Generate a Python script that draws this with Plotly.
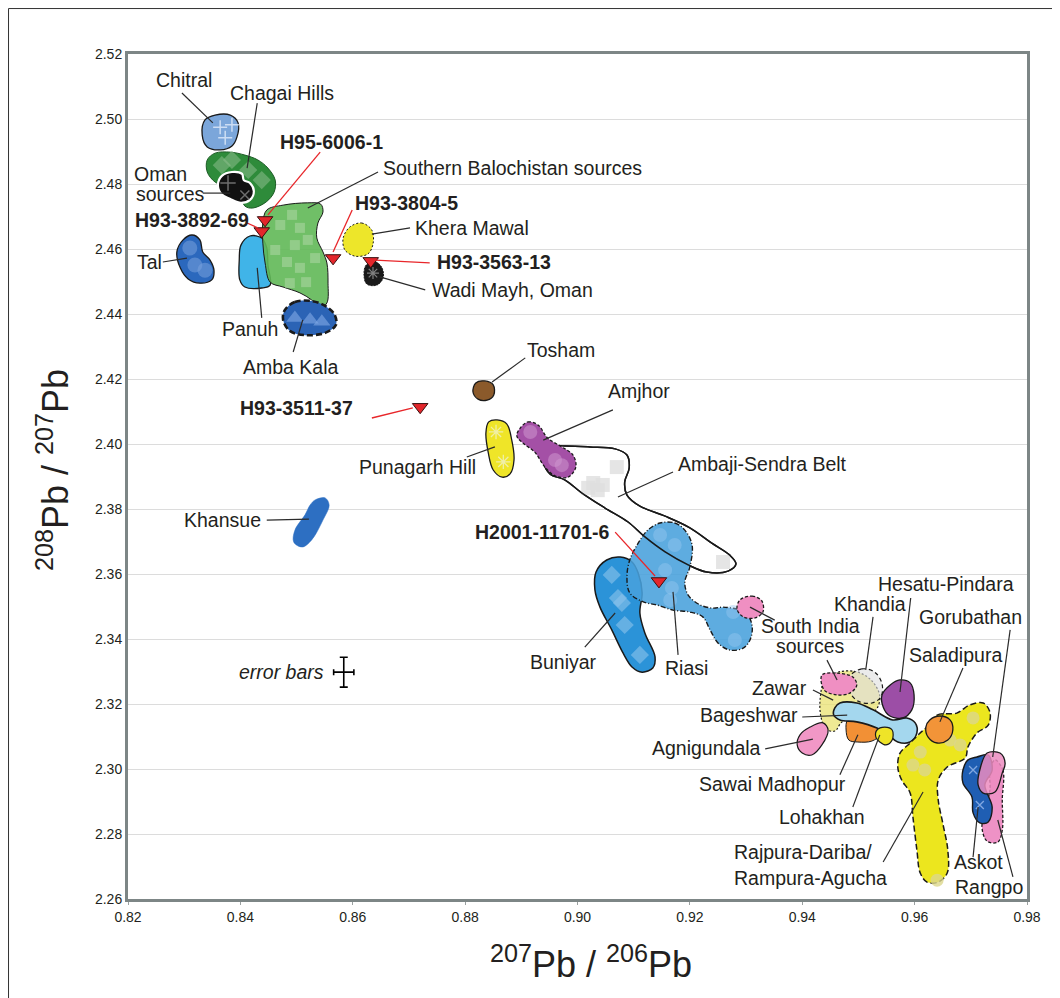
import plotly.graph_objects as go

# ---------------- field outlines: x = 207Pb/206Pb, y = 208Pb/207Pb ----------------
chitral_x = [0.8337, 0.8355, 0.8382, 0.8396, 0.8394, 0.8385, 0.8364, 0.8341, 0.8332]
chitral_y = [2.4997, 2.5012, 2.5012, 2.4988, 2.4945, 2.4917, 2.4905, 2.4914, 2.4951]

chagai_x = [0.8341, 0.8355, 0.8382, 0.8408, 0.8431, 0.8449, 0.8462, 0.8460, 0.8446, 0.8422, 0.8408, 0.8399, 0.8378, 0.8355, 0.8341]
chagai_y = [2.4874, 2.4895, 2.4898, 2.4889, 2.4874, 2.4849, 2.4812, 2.4775, 2.4745, 2.4726, 2.4732, 2.4766, 2.4788, 2.4806, 2.4837]

oman_x = [0.8360, 0.8367, 0.8385, 0.8403, 0.8406, 0.8417, 0.8424, 0.8417, 0.8401, 0.8382, 0.8366]
oman_y = [2.4797, 2.4825, 2.4837, 2.4831, 2.4812, 2.4803, 2.4778, 2.4751, 2.4742, 2.4754, 2.4769]

sbal_x = [0.8447, 0.8476, 0.8519, 0.8543, 0.8547, 0.8538, 0.8536, 0.8547, 0.8554, 0.8556, 0.8554, 0.8542, 0.8527, 0.8506, 0.8476, 0.8453, 0.8444, 0.8440, 0.8440]
sbal_y = [2.4720, 2.4735, 2.4742, 2.4738, 2.4714, 2.4680, 2.4634, 2.4591, 2.4557, 2.4495, 2.4434, 2.4418, 2.4443, 2.4465, 2.4483, 2.4498, 2.4557, 2.4618, 2.4680]

tal_x = [0.8298, 0.8314, 0.8328, 0.8333, 0.8346, 0.8353, 0.8349, 0.8328, 0.8307, 0.8293, 0.8287]
tal_y = [2.4628, 2.4643, 2.4628, 2.4591, 2.4566, 2.4535, 2.4505, 2.4495, 2.4508, 2.4542, 2.4591]

panuh_x = [0.8417, 0.8438, 0.8447, 0.8449, 0.8453, 0.8438, 0.8408, 0.8399, 0.8398, 0.8401]
panuh_y = [2.4640, 2.4634, 2.4603, 2.4551, 2.4489, 2.4480, 2.4483, 2.4505, 2.4566, 2.4612]

amba_x = [0.8479, 0.8497, 0.8527, 0.8551, 0.8568, 0.8570, 0.8551, 0.8515, 0.8488, 0.8476]
amba_y = [2.4412, 2.4437, 2.4440, 2.4425, 2.4397, 2.4366, 2.4342, 2.4335, 2.4348, 2.4382]

khera_x = [0.8595, 0.8616, 0.8634, 0.8636, 0.8627, 0.8604, 0.8586, 0.8583]
khera_y = [2.4668, 2.4680, 2.4658, 2.4615, 2.4585, 2.4578, 2.4597, 2.4634]

wadi_x = [0.8624, 0.8641, 0.8652, 0.8654, 0.8643, 0.8625, 0.8620]
wadi_y = [2.4551, 2.4560, 2.4542, 2.4511, 2.4489, 2.4492, 2.4520]

tosham_x = [0.8819, 0.8835, 0.8850, 0.8851, 0.8839, 0.8823, 0.8814]
tosham_y = [2.4188, 2.4194, 2.4182, 2.4151, 2.4135, 2.4138, 2.4160]

punagarh_x = [0.8857, 0.8874, 0.8883, 0.8887, 0.8880, 0.8866, 0.8850, 0.8841, 0.8837, 0.8842]
punagarh_y = [2.4074, 2.4062, 2.4012, 2.3951, 2.3908, 2.3898, 2.3920, 2.3975, 2.4034, 2.4068]

amjhor_x = [0.8898, 0.8912, 0.8930, 0.8947, 0.8972, 0.8992, 0.8997, 0.8983, 0.8960, 0.8942, 0.8924, 0.8905, 0.8892]
amjhor_y = [2.4049, 2.4068, 2.4058, 2.4018, 2.3991, 2.3966, 2.3929, 2.3898, 2.3902, 2.3929, 2.3975, 2.4000, 2.4025]

ambaji_x = [0.8946, 0.8978, 0.9022, 0.9067, 0.9088, 0.9092, 0.9084, 0.9088, 0.9111, 0.9156, 0.9200, 0.9239, 0.9271, 0.9282, 0.9268, 0.9230, 0.9197, 0.9156, 0.9120, 0.9090, 0.9049, 0.9008, 0.8978, 0.8951, 0.8940]
ambaji_y = [2.3991, 2.3994, 2.3991, 2.3985, 2.3966, 2.3926, 2.3883, 2.3843, 2.3809, 2.3778, 2.3742, 2.3695, 2.3658, 2.3631, 2.3609, 2.3606, 2.3628, 2.3668, 2.3714, 2.3760, 2.3803, 2.3849, 2.3889, 2.3908, 2.3945]

khansue_x = [0.8533, 0.8551, 0.8558, 0.8547, 0.8527, 0.8510, 0.8495, 0.8497, 0.8515, 0.8524]
khansue_y = [2.3828, 2.3834, 2.3812, 2.3766, 2.3705, 2.3683, 2.3698, 2.3735, 2.3782, 2.3812]

buniyar_x = [0.9052, 0.9076, 0.9097, 0.9108, 0.9115, 0.9111, 0.9120, 0.9138, 0.9134, 0.9115, 0.9097, 0.9081, 0.9061, 0.9040, 0.9031, 0.9033]
buniyar_y = [2.3643, 2.3652, 2.3637, 2.3603, 2.3542, 2.3480, 2.3418, 2.3345, 2.3311, 2.3298, 2.3314, 2.3357, 2.3428, 2.3498, 2.3551, 2.3606]

riasi_x = [0.9147, 0.9173, 0.9191, 0.9204, 0.9200, 0.9191, 0.9197, 0.9218, 0.9241, 0.9259, 0.9289, 0.9303, 0.9311, 0.9307, 0.9295, 0.9271, 0.9250, 0.9236, 0.9223, 0.9200, 0.9170, 0.9141, 0.9117, 0.9093, 0.9088, 0.9093, 0.9108, 0.9125]
riasi_y = [2.3757, 2.3757, 2.3735, 2.3689, 2.3622, 2.3575, 2.3535, 2.3505, 2.3495, 2.3498, 2.3489, 2.3474, 2.3437, 2.3397, 2.3372, 2.3366, 2.3388, 2.3428, 2.3468, 2.3483, 2.3489, 2.3505, 2.3514, 2.3542, 2.3591, 2.3643, 2.3695, 2.3735]

sindia_a_x = [0.9289, 0.9311, 0.9328, 0.9330, 0.9316, 0.9295, 0.9284]
sindia_a_y = [2.3520, 2.3532, 2.3517, 2.3483, 2.3465, 2.3468, 2.3492]

sindia_b_x = [0.9435, 0.9462, 0.9490, 0.9497, 0.9485, 0.9462, 0.9439]
sindia_b_y = [2.3289, 2.3295, 2.3283, 2.3258, 2.3234, 2.3228, 2.3243]

zawar_x = [0.9439, 0.9464, 0.9499, 0.9524, 0.9538, 0.9531, 0.9503, 0.9471, 0.9458, 0.9442, 0.9433, 0.9432]
zawar_y = [2.3268, 2.3298, 2.3298, 2.3271, 2.3225, 2.3182, 2.3163, 2.3145, 2.3117, 2.3123, 2.3163, 2.3218]

khandia_x = [0.9485, 0.9506, 0.9529, 0.9542, 0.9540, 0.9524, 0.9499, 0.9483]
khandia_y = [2.3286, 2.3308, 2.3298, 2.3262, 2.3222, 2.3203, 2.3209, 2.3243]

hesatu_x = [0.9556, 0.9574, 0.9592, 0.9599, 0.9595, 0.9579, 0.9556, 0.9544, 0.9542]
hesatu_y = [2.3258, 2.3274, 2.3265, 2.3228, 2.3182, 2.3157, 2.3163, 2.3191, 2.3228]

bageshwar_x = [0.9458, 0.9467, 0.9497, 0.9526, 0.9561, 0.9586, 0.9601, 0.9604, 0.9592, 0.9570, 0.9553, 0.9533, 0.9497, 0.9467, 0.9456]
bageshwar_y = [2.3188, 2.3203, 2.3203, 2.3182, 2.3151, 2.3157, 2.3142, 2.3111, 2.3083, 2.3083, 2.3105, 2.3126, 2.3145, 2.3151, 2.3166]

sawai_x = [0.9481, 0.9506, 0.9535, 0.9538, 0.9524, 0.9499, 0.9483, 0.9478]
sawai_y = [2.3151, 2.3157, 2.3135, 2.3105, 2.3086, 2.3083, 2.3089, 2.3120]

lohakhan_x = [0.9533, 0.9547, 0.9560, 0.9560, 0.9549, 0.9538, 0.9531]
lohakhan_y = [2.3120, 2.3129, 2.3120, 2.3089, 2.3074, 2.3083, 2.3098]

agni_x = [0.9396, 0.9414, 0.9437, 0.9446, 0.9435, 0.9417, 0.9400, 0.9391]
agni_y = [2.3105, 2.3129, 2.3142, 2.3120, 2.3074, 2.3043, 2.3049, 2.3074]

saladipura_x = [0.9627, 0.9645, 0.9663, 0.9668, 0.9659, 0.9640, 0.9624, 0.9620]
saladipura_y = [2.3151, 2.3163, 2.3151, 2.3120, 2.3089, 2.3080, 2.3098, 2.3129]

rajpura_x = [0.9622, 0.9640, 0.9675, 0.9698, 0.9722, 0.9734, 0.9731, 0.9711, 0.9695, 0.9690, 0.9658, 0.9642, 0.9642, 0.9650, 0.9659, 0.9658, 0.9642, 0.9622, 0.9610, 0.9604, 0.9597, 0.9592, 0.9577, 0.9570, 0.9574, 0.9592, 0.9610]
rajpura_y = [2.3129, 2.3166, 2.3172, 2.3197, 2.3203, 2.3175, 2.3135, 2.3111, 2.3068, 2.3034, 2.3006, 2.2966, 2.2905, 2.2834, 2.2751, 2.2680, 2.2652, 2.2652, 2.2680, 2.2751, 2.2852, 2.2926, 2.2966, 2.3006, 2.3049, 2.3080, 2.3111]

askot_x = [0.9711, 0.9731, 0.9738, 0.9725, 0.9738, 0.9731, 0.9716, 0.9704, 0.9702, 0.9686, 0.9686, 0.9695]
askot_y = [2.3037, 2.3043, 2.2997, 2.2951, 2.2883, 2.2837, 2.2834, 2.2865, 2.2914, 2.2957, 2.2997, 2.3028]

goru_x = [0.9729, 0.9752, 0.9761, 0.9756, 0.9743, 0.9722, 0.9713, 0.9716]
goru_y = [2.3049, 2.3049, 2.3018, 2.2988, 2.2929, 2.2926, 2.2951, 2.2997]

rangpo_x = [0.9743, 0.9757, 0.9756, 0.9756, 0.9748, 0.9729, 0.9720, 0.9725, 0.9734, 0.9734]
rangpo_y = [2.3028, 2.2997, 2.2905, 2.2812, 2.2775, 2.2778, 2.2818, 2.2874, 2.2935, 2.2997]

# ---------------- individual analyses inside fields ----------------
chitral_pts_x = [0.8364, 0.8385, 0.8373]
chitral_pts_y = [2.4975, 2.4982, 2.4942]
chagai_pts_x = [0.8367, 0.8385, 0.8414, 0.8438]
chagai_pts_y = [2.4858, 2.4874, 2.4843, 2.4812]
sbal_pts_x = [0.8471, 0.8492, 0.8506, 0.8497, 0.8520, 0.8483, 0.8506, 0.8488, 0.8462, 0.8533, 0.8517]
sbal_pts_y = [2.4674, 2.4705, 2.4665, 2.4612, 2.4628, 2.4560, 2.4542, 2.4495, 2.4597, 2.4572, 2.4498]
tal_pts_x = [0.8310, 0.8319, 0.8337]
tal_pts_y = [2.4603, 2.4551, 2.4535]
amba_pts_x = [0.8497, 0.8524, 0.8545]
amba_pts_y = [2.4388, 2.4382, 2.4376]
khansue_pts_x = [0.8545, 0.8511]
khansue_pts_y = [2.3812, 2.3726]
punagarh_pts_x = [0.8855, 0.8868]
punagarh_pts_y = [2.4037, 2.3945]
amjhor_pts_x = [0.8916, 0.8960, 0.8972]
amjhor_pts_y = [2.4037, 2.3951, 2.3935]
ambaji_pts_x = [0.9070, 0.9028, 0.9019, 0.9036, 0.9045, 0.9259]
ambaji_pts_y = [2.3929, 2.3880, 2.3865, 2.3858, 2.3874, 2.3637]
buniyar_pts_x = [0.9061, 0.9072, 0.9079, 0.9084, 0.9111]
buniyar_pts_y = [2.3597, 2.3526, 2.3511, 2.3443, 2.3351]
riasi_pts_x = [0.9147, 0.9173, 0.9156, 0.9168, 0.9165, 0.9277, 0.9280]
riasi_pts_y = [2.3720, 2.3689, 2.3612, 2.3557, 2.3520, 2.3483, 2.3397]
rajpura_pts_x = [0.9704, 0.9663, 0.9681, 0.9610, 0.9597, 0.9618, 0.9640]
rajpura_pts_y = [2.3157, 2.3089, 2.3074, 2.3052, 2.3012, 2.2997, 2.2658]
askot_pts_x = [0.9704, 0.9716]
askot_pts_y = [2.2997, 2.2889]
oman_pts_x = [0.8378, 0.8408]
oman_pts_y = [2.4803, 2.4766]
wadi_pts_x = [0.8636]
wadi_pts_y = [2.4526]

# ---------------- artefact samples (red triangles) ----------------
sample_names = ["H95-6006-1", "H93-3892-69", "H93-3804-5", "H93-3563-13", "H93-3511-37", "H2001-11701-6"]
sample_x = [0.8444, 0.8438, 0.8565, 0.8632, 0.8720, 0.9145]
sample_y = [2.4689, 2.4655, 2.4572, 2.4563, 2.4114, 2.3578]

# error bar (typical 2 sigma)
err_x, err_y = [0.8584], [2.3298]
err_dx, err_dy = 0.0018, 0.0046

x_ticks = [0.82, 0.84, 0.86, 0.88, 0.90, 0.92, 0.94, 0.96, 0.98]
y_ticks = [2.26, 2.28, 2.30, 2.32, 2.34, 2.36, 2.38, 2.40, 2.42, 2.44, 2.46, 2.48, 2.50, 2.52]

FONT = "Liberation Sans, Arial, sans-serif"
fig = go.Figure()


def closed(v):
    return list(v) + [v[0]]


def blob(xs, ys, fill, line_color="#1a1a1a", width=1.3, dash="solid", opacity=1.0, name=""):
    fig.add_trace(go.Scatter(
        x=closed(xs), y=closed(ys), mode="lines", fill="toself", fillcolor=fill,
        line=dict(color=line_color, width=width, dash=dash, shape="spline", smoothing=1.0),
        opacity=opacity, hoverinfo="skip", showlegend=False, name=name))


def pts(xs, ys, symbol, color, size=11, line=None):
    mk = dict(symbol=symbol, size=size, color=color)
    if line:
        mk["line"] = line
    fig.add_trace(go.Scatter(x=xs, y=ys, mode="markers", marker=mk,
                             hoverinfo="skip", showlegend=False))


# Ambaji-Sendra belt (white field with outline)
blob(ambaji_x, ambaji_y, "white", width=1.5, name="Ambaji")
pts(ambaji_pts_x, ambaji_pts_y, "square", "rgba(222,222,222,0.8)", size=14)

# north-west fields
blob(chitral_x, chitral_y, "#7ba6da", name="Chitral")
pts(chitral_pts_x, chitral_pts_y, "cross-thin", "rgba(0,0,0,0)", size=10,
    line=dict(color="rgba(225,235,250,0.8)", width=1.5))
blob(chagai_x, chagai_y, "#2e8b3a", line_color="#1d5c26", width=1, name="Chagai")
pts(chagai_pts_x, chagai_pts_y, "diamond", "rgba(140,190,140,0.55)", size=14)
blob(oman_x, oman_y, "#111111", line_color="white", width=2.2, name="Oman")
pts(oman_pts_x[:1], oman_pts_y[:1], "cross-thin", "rgba(0,0,0,0)", size=11,
    line=dict(color="rgba(120,120,120,0.9)", width=1.5))
pts(oman_pts_x[1:], oman_pts_y[1:], "x-thin", "rgba(0,0,0,0)", size=9,
    line=dict(color="rgba(120,120,120,0.9)", width=1.5))
blob(panuh_x, panuh_y, "#40b4e8", name="Panuh")
blob(sbal_x, sbal_y, "rgba(96,184,86,0.9)", width=1, name="SBal")
pts(sbal_pts_x, sbal_pts_y, "square", "rgba(175,215,165,0.55)", size=10)
blob(tal_x, tal_y, "#2b68bd", name="Tal")
pts(tal_pts_x, tal_pts_y, "circle", "rgba(120,160,220,0.55)", size=15)
blob(amba_x, amba_y, "#2b63b5", width=2.6, dash="6px,3px", name="Amba")
pts(amba_pts_x, amba_pts_y, "triangle-up", "rgba(130,170,230,0.6)", size=15)
blob(khera_x, khera_y, "#ede62a", width=1, dash="2px,2px", name="Khera")
blob(wadi_x, wadi_y, "#1a1a1a", width=1, dash="2px,1px", name="Wadi")
pts(wadi_pts_x, wadi_pts_y, "asterisk", "rgba(0,0,0,0)", size=10,
    line=dict(color="rgba(140,140,140,0.9)", width=1.2))
blob(tosham_x, tosham_y, "#8b5a2b", name="Tosham")
blob(punagarh_x, punagarh_y, "#efe528", name="Punagarh")
pts(punagarh_pts_x, punagarh_pts_y, "asterisk", "rgba(0,0,0,0)", size=12,
    line=dict(color="rgba(240,240,180,0.9)", width=1.3))
blob(khansue_x, khansue_y, "#2d6fc2", line_color="#2d6fc2", width=0.5, name="Khansue")
pts(khansue_pts_x, khansue_pts_y, "circle-x-open", "rgba(0,0,0,0)", size=10,
    line=dict(color="rgba(150,185,235,0.9)", width=1.2))

# Buniyar / Riasi
blob(buniyar_x, buniyar_y, "#2b93d8", width=1.5, name="Buniyar")
pts(buniyar_pts_x, buniyar_pts_y, "diamond", "rgba(140,195,235,0.6)", size=14)
blob(riasi_x, riasi_y, "rgba(72,160,220,0.88)", width=1.4, dash="5px,2px,1px,2px", name="Riasi")
pts(riasi_pts_x, riasi_pts_y, "circle", "rgba(150,200,240,0.45)", size=14)
# Ambaji outline redrawn over Riasi
fig.add_trace(go.Scatter(x=closed(ambaji_x), y=closed(ambaji_y), mode="lines",
                         line=dict(color="#1a1a1a", width=1.5, shape="spline", smoothing=1.0),
                         hoverinfo="skip", showlegend=False))
blob(amjhor_x, amjhor_y, "#a450a6", width=1.3, dash="3px,2px", name="Amjhor")
pts(amjhor_pts_x, amjhor_pts_y, "circle", "rgba(205,150,205,0.55)", size=14)
blob(sindia_a_x, sindia_a_y, "#ef8fc2", width=1.3, dash="3px,2px", name="SIndiaA")

# south-east cluster
blob(zawar_x, zawar_y, "rgba(234,226,112,0.75)", width=1.2, dash="2px,2px", name="Zawar")
blob(khandia_x, khandia_y, "rgba(222,222,222,0.6)", width=1.2, dash="4px,3px", name="Khandia")
blob(sindia_b_x, sindia_b_y, "#ef8fc2", width=1.3, dash="3px,2px", name="SIndiaB")
blob(hesatu_x, hesatu_y, "#9c4ea6", width=1.3, name="Hesatu")
blob(sawai_x, sawai_y, "#f29035", width=1, name="Sawai")
blob(bageshwar_x, bageshwar_y, "#a4d7ee", width=1.6, name="Bageshwar")
blob(lohakhan_x, lohakhan_y, "#efe428", width=1.2, name="Lohakhan")
blob(agni_x, agni_y, "#f197c6", width=1.2, name="Agnigundala")
blob(rajpura_x, rajpura_y, "#ece61e", width=1.5, dash="6px,3px", name="Rajpura")
pts(rajpura_pts_x, rajpura_pts_y, "circle", "rgba(220,215,140,0.8)", size=13)
blob(saladipura_x, saladipura_y, "#f29438", width=1.3, name="Saladipura")
blob(rangpo_x, rangpo_y, "#ee92c6", width=1.3, dash="3px,2px", name="Rangpo")
blob(askot_x, askot_y, "#1f5eb3", width=1.4, name="Askot")
pts(askot_pts_x, askot_pts_y, "x-thin", "rgba(0,0,0,0)", size=8,
    line=dict(color="rgba(140,175,230,0.9)", width=1.3))
blob(goru_x, goru_y, "rgba(236,140,192,0.85)", width=1.3, name="Gorubathan")

# error bars
fig.add_trace(go.Scatter(
    x=err_x, y=err_y, mode="markers", marker=dict(size=1, color="black"),
    error_x=dict(type="constant", value=err_dx, width=3, thickness=1.6, color="black"),
    error_y=dict(type="constant", value=err_dy, width=4, thickness=1.6, color="black"),
    hoverinfo="skip", showlegend=False))

# ---------------- leader lines ----------------
grey_leaders = [
    (0.8296, 2.5080, 0.8351, 2.4988), (0.8430, 2.5049, 0.8412, 2.4849),
    (0.8333, 2.4772, 0.8382, 2.4772), (0.8645, 2.4837, 0.8520, 2.4726),
    (0.8262, 2.4560, 0.8305, 2.4572), (0.8438, 2.4388, 0.8430, 2.4542),
    (0.8494, 2.4283, 0.8511, 2.4382), (0.8634, 2.4646, 0.8702, 2.4665),
    (0.8648, 2.4514, 0.8729, 2.4474), (0.8848, 2.4191, 0.8907, 2.4265),
    (0.8803, 2.3960, 0.8853, 2.3991), (0.9063, 2.4105, 0.8939, 2.4012),
    (0.9170, 2.3914, 0.9072, 2.3837), (0.8447, 2.3766, 0.8522, 2.3769),
    (0.9013, 2.3375, 0.9067, 2.3480), (0.9179, 2.3351, 0.9170, 2.3545),
    (0.9351, 2.3458, 0.9307, 2.3498), (0.9444, 2.3335, 0.9462, 2.3274),
    (0.9526, 2.3468, 0.9513, 2.3305), (0.9593, 2.3526, 0.9574, 2.3237),
    (0.9770, 2.3428, 0.9739, 2.3037), (0.9686, 2.3311, 0.9645, 2.3145),
    (0.9419, 2.3243, 0.9455, 2.3212), (0.9400, 2.3160, 0.9480, 2.3166),
    (0.9334, 2.3062, 0.9419, 2.3092), (0.9467, 2.2982, 0.9499, 2.3105),
    (0.9490, 2.2883, 0.9538, 2.3105), (0.9544, 2.2714, 0.9615, 2.2929),
    (0.9704, 2.2729, 0.9713, 2.2883), (0.9775, 2.2668, 0.9748, 2.2843),
]
red_leaders = [
    (0.8542, 2.4898, 0.8449, 2.4705), (0.8412, 2.4680, 0.8431, 2.4665),
    (0.8599, 2.4720, 0.8565, 2.4591), (0.8737, 2.4557, 0.8640, 2.4566),
    (0.8634, 2.4080, 0.8707, 2.4111), (0.9067, 2.3729, 0.9138, 2.3594),
]
shapes = []
for x0, y0, x1, y1 in grey_leaders:
    shapes.append(dict(type="line", xref="x", yref="y", x0=x0, y0=y0, x1=x1, y1=y1,
                       line=dict(color="#2b2b2b", width=1.2)))
for x0, y0, x1, y1 in red_leaders:
    shapes.append(dict(type="line", xref="x", yref="y", x0=x0, y0=y0, x1=x1, y1=y1,
                       line=dict(color="#e8262a", width=1.3)))
# thin frame lines of the original figure panel (top and left edges)
shapes.append(dict(type="line", xref="paper", yref="paper", x0=-0.1329, x1=1.05,
                   y0=1.0538, y1=1.0538, line=dict(color="#333333", width=1)))
shapes.append(dict(type="line", xref="paper", yref="paper", x0=-0.1329, x1=-0.1329,
                   y0=1.0538, y1=-0.12, line=dict(color="#333333", width=1)))

# red triangles on top
fig.add_trace(go.Scatter(
    x=sample_x, y=sample_y, mode="markers", text=sample_names,
    marker=dict(symbol="triangle-down", size=13.5, color="#e3262b",
                line=dict(color="#3a1010", width=1)),
    hoverinfo="text", showlegend=False))

# ---------------- labels ----------------
labels = [
    ("Chitral", 0.8300, 2.5120, "center"), ("Chagai Hills", 0.8474, 2.5080, "center"),
    ("<b>H95-6006-1</b>", 0.8467, 2.4929, "left"),
    ("Southern Balochistan sources", 0.8650, 2.4849, "left"),
    ("Oman", 0.8207, 2.4831, "left"), ("sources", 0.8211, 2.4769, "left"),
    ("<b>H93-3892-69</b>", 0.8209, 2.4689, "left"),
    ("<b>H93-3804-5</b>", 0.8600, 2.4742, "left"),
    ("Khera Mawal", 0.8707, 2.4665, "left"),
    ("<b>H93-3563-13</b>", 0.8746, 2.4560, "left"),
    ("Tal", 0.8212, 2.4560, "left"),
    ("Wadi Mayh, Oman", 0.8737, 2.4474, "left"),
    ("Panuh", 0.8417, 2.4354, "center"), ("Amba Kala", 0.8490, 2.4237, "center"),
    ("Tosham", 0.8907, 2.4289, "left"),
    ("<b>H93-3511-37</b>", 0.8396, 2.4111, "left"),
    ("Amjhor", 0.9051, 2.4163, "left"),
    ("Punagarh Hill", 0.8823, 2.3929, "right"),
    ("Ambaji-Sendra Belt", 0.9175, 2.3938, "left"),
    ("Khansue", 0.8296, 2.3766, "left"),
    ("<b>H2001-11701-6</b>", 0.9061, 2.3729, "right"),
    ("Buniyar", 0.9038, 2.3329, "right"), ("Riasi", 0.9152, 2.3311, "left"),
    ("South India", 0.9414, 2.3440, "center"), ("sources", 0.9414, 2.3378, "center"),
    ("Hesatu-Pindara", 0.9531, 2.3569, "left"), ("Khandia", 0.9453, 2.3508, "left"),
    ("Gorubathan", 0.9604, 2.3468, "left"), ("Saladipura", 0.9586, 2.3351, "left"),
    ("Zawar", 0.9412, 2.3249, "right"), ("Bageshwar", 0.9396, 2.3166, "right"),
    ("Agnigundala", 0.9330, 2.3065, "right"), ("Sawai Madhopur", 0.9481, 2.2954, "right"),
    ("Lohakhan", 0.9515, 2.2852, "right"),
    ("Rajpura-Dariba/", 0.9275, 2.2745, "left"), ("Rampura-Agucha", 0.9275, 2.2665, "left"),
    ("Askot", 0.9666, 2.2714, "left"), ("Rangpo", 0.9668, 2.2637, "left"),
    ("<i>error bars</i>", 0.8552, 2.3298, "right"),
]
annotations = []
for text, x, y, anchor in labels:
    annotations.append(dict(text=text, x=x, y=y, xref="x", yref="y", xanchor=anchor,
                            yanchor="middle", showarrow=False,
                            font=dict(family=FONT, size=19.5, color="#231f20")))
annotations.append(dict(text="<sup>208</sup>Pb / <sup>207</sup>Pb", x=-0.0834, y=0.5077,
                        xref="paper", yref="paper", textangle=-90, showarrow=False,
                        xanchor="center", yanchor="middle",
                        font=dict(family=FONT, size=36, color="#231f20")))
annotations.append(dict(text="<sup>207</sup>Pb / <sup>206</sup>Pb", x=0.515, y=-0.0746,
                        xref="paper", yref="paper", showarrow=False,
                        xanchor="center", yanchor="middle",
                        font=dict(family=FONT, size=36, color="#231f20")))

fig.update_layout(
    width=1052, height=990, margin=dict(l=120, r=33, t=46, b=99),
    paper_bgcolor="white", plot_bgcolor="white",
    shapes=shapes, annotations=annotations, showlegend=False,
    xaxis=dict(range=[0.82, 0.98], tickvals=x_ticks, tickformat=".2f", showgrid=False,
               showline=True, mirror=True, linecolor="#7d8686", linewidth=3,
               ticks="outside", ticklen=3, tickcolor="#9aa0a0", zeroline=False,
               tickfont=dict(family=FONT, size=14, color="#231f20")),
    yaxis=dict(range=[2.26, 2.52], tickvals=y_ticks, tickformat=".2f", showgrid=True,
               gridcolor="#dcdcdc", gridwidth=1, showline=True, mirror=True,
               linecolor="#7d8686", linewidth=3, ticks="", zeroline=False,
               tickfont=dict(family=FONT, size=14, color="#231f20")),
)

fig.write_html("out.html")
